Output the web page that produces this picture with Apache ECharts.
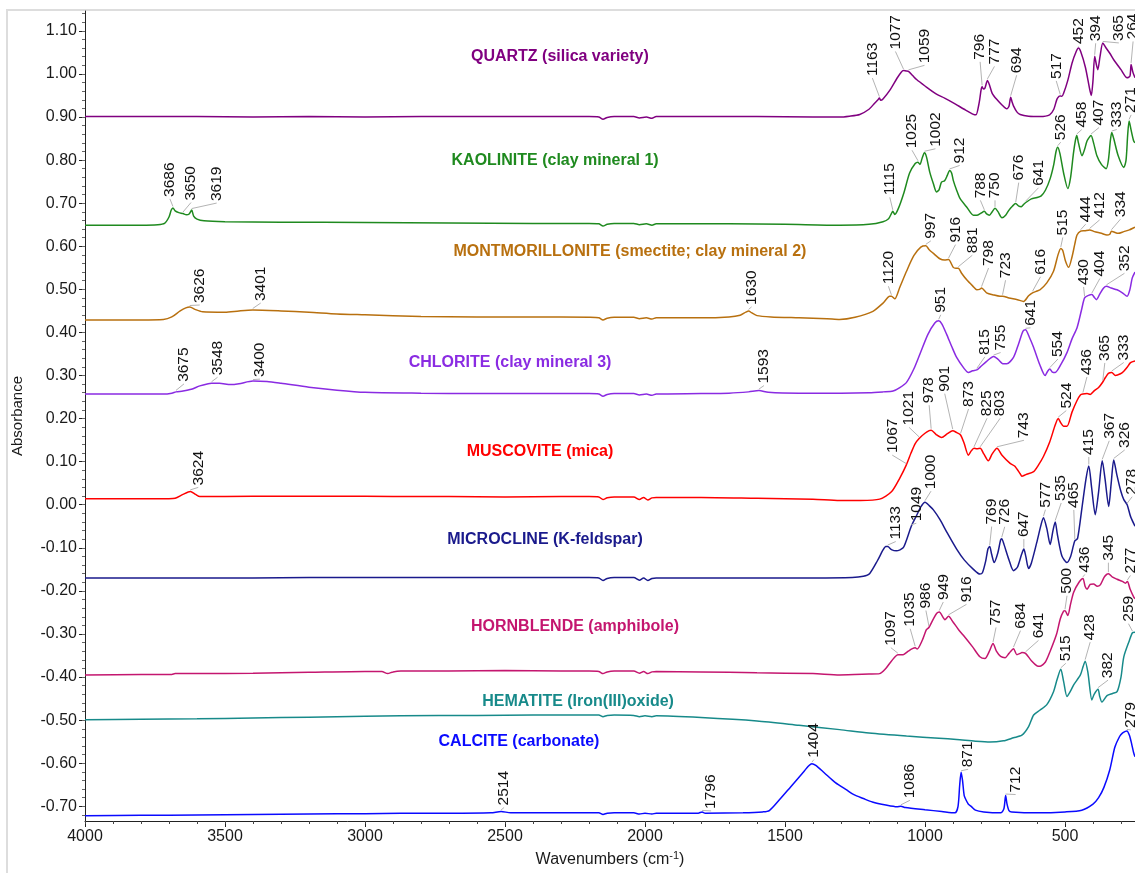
<!DOCTYPE html>
<html>
<head>
<meta charset="utf-8">
<script src="https://cdn.jsdelivr.net/npm/echarts@6/dist/echarts.min.js"></script>
<style>html,body{margin:0;padding:0;background:#fff}#chart{width:1135px;height:873px}</style>
</head>
<body>
<div id="chart"></div>
<script>
// ---------- axis ticks ----------
const xTickValues = [500, 1000, 1500, 2000, 2500, 3000, 3500, 4000];
const yTickValues = [-0.70, -0.60, -0.50, -0.40, -0.30, -0.20, -0.10, 0.00, 0.10, 0.20, 0.30, 0.40, 0.50, 0.60, 0.70, 0.80, 0.90, 1.00, 1.10];

// ---------- names ----------
const mineralNames = [
  'QUARTZ (silica variety)',
  'KAOLINITE (clay mineral 1)',
  'MONTMORILLONITE (smectite; clay mineral 2)',
  'CHLORITE (clay mineral 3)',
  'MUSCOVITE (mica)',
  'MICROCLINE (K-feldspar)',
  'HORNBLENDE (amphibole)',
  'HEMATITE (Iron(III)oxide)',
  'CALCITE (carbonate)'
];

// ---------- spectra [wavenumber, absorbance] ----------
const quartz = [[4000,0.901],[3800,0.901],[3600,0.901],[3400,0.900],[3200,0.901],[3000,0.900],[2800,0.901],[2600,0.901],[2400,0.901],[2200,0.901],[2165,0.900],[2150,0.895],[2135,0.899],[2110,0.901],[2040,0.901],[2020,0.898],[1995,0.900],[1975,0.897],[1960,0.901],[1800,0.901],[1600,0.901],[1400,0.900],[1305,0.900],[1270,0.902],[1233,0.906],[1200,0.918],[1180,0.932],[1168,0.940],[1163,0.944],[1158,0.939],[1150,0.942],[1126,0.962],[1100,0.990],[1085,1.004],[1077,1.008],[1068,1.007],[1059,1.006],[1045,0.997],[1030,0.987],[1000,0.972],[959,0.953],[930,0.944],[899,0.933],[860,0.918],[827,0.906],[818,0.905],[806,0.935],[800,0.962],[796,0.970],[791,0.965],[786,0.967],[777,0.985],[770,0.975],[760,0.955],[744,0.941],[725,0.928],[708,0.919],[700,0.925],[694,0.946],[689,0.935],[684,0.926],[672,0.912],[660,0.906],[630,0.902],[589,0.901],[555,0.905],[540,0.918],[529,0.941],[521,0.948],[517,0.949],[511,0.948],[505,0.955],[490,0.985],[475,1.025],[460,1.052],[452,1.060],[444,1.052],[427,1.015],[412,0.965],[406,0.950],[400,0.985],[394,1.041],[388,1.022],[383,1.010],[375,1.040],[365,1.072],[355,1.062],[340,1.048],[326,1.033],[300,1.010],[278,0.991],[268,0.995],[264,1.022],[258,1.005],[250,0.991]];

const kaolinite = [[4000,0.649],[3800,0.649],[3740,0.650],[3716,0.653],[3700,0.668],[3692,0.684],[3686,0.689],[3678,0.682],[3665,0.678],[3650,0.676],[3638,0.673],[3628,0.675],[3619,0.684],[3612,0.670],[3600,0.663],[3575,0.659],[3500,0.657],[3300,0.656],[3000,0.655],[2700,0.654],[2400,0.653],[2200,0.653],[2165,0.652],[2150,0.647],[2135,0.651],[2110,0.653],[2040,0.653],[2020,0.650],[1995,0.652],[1975,0.649],[1960,0.652],[1700,0.652],[1500,0.651],[1305,0.649],[1200,0.651],[1150,0.657],[1130,0.664],[1120,0.676],[1115,0.681],[1108,0.674],[1095,0.688],[1075,0.725],[1055,0.770],[1035,0.792],[1025,0.795],[1018,0.790],[1010,0.805],[1002,0.817],[995,0.808],[983,0.772],[970,0.745],[959,0.726],[950,0.731],[941,0.749],[930,0.752],[920,0.765],[912,0.776],[905,0.770],[899,0.753],[887,0.730],[875,0.711],[850,0.690],[827,0.672],[815,0.672],[800,0.677],[788,0.681],[780,0.675],[770,0.672],[760,0.680],[750,0.688],[740,0.681],[725,0.666],[712,0.672],[700,0.684],[688,0.693],[676,0.699],[665,0.693],[656,0.692],[648,0.697],[641,0.701],[620,0.710],[600,0.713],[585,0.717],[570,0.730],[553,0.757],[540,0.790],[532,0.820],[526,0.830],[518,0.815],[505,0.770],[490,0.734],[480,0.760],[470,0.815],[463,0.845],[458,0.857],[452,0.840],[439,0.810],[430,0.825],[421,0.845],[407,0.857],[398,0.840],[386,0.810],[370,0.790],[353,0.780],[345,0.800],[338,0.845],[333,0.864],[326,0.850],[310,0.810],[290,0.783],[282,0.800],[276,0.860],[271,0.891],[264,0.870],[255,0.845],[250,0.840]];

const montmorillonite = [[4000,0.429],[3800,0.429],[3720,0.430],[3690,0.436],[3660,0.450],[3640,0.457],[3626,0.459],[3605,0.453],[3580,0.448],[3500,0.447],[3450,0.450],[3401,0.452],[3300,0.450],[3200,0.447],[3100,0.443],[3000,0.441],[2800,0.437],[2600,0.436],[2400,0.436],[2200,0.435],[2165,0.434],[2150,0.429],[2135,0.433],[2110,0.435],[2040,0.435],[2020,0.432],[1995,0.434],[1975,0.431],[1960,0.434],[1800,0.434],[1700,0.436],[1660,0.440],[1640,0.447],[1630,0.450],[1620,0.446],[1600,0.439],[1550,0.436],[1450,0.434],[1350,0.432],[1305,0.430],[1250,0.435],[1186,0.449],[1150,0.468],[1126,0.484],[1120,0.484],[1108,0.478],[1090,0.505],[1066,0.542],[1040,0.578],[1015,0.598],[997,0.601],[985,0.592],[971,0.584],[947,0.571],[930,0.568],[916,0.569],[899,0.551],[890,0.549],[881,0.549],[870,0.538],[851,0.522],[830,0.508],[815,0.499],[805,0.500],[798,0.503],[780,0.492],[755,0.487],[732,0.484],[723,0.484],[700,0.480],[670,0.476],[648,0.472],[630,0.485],[616,0.492],[600,0.496],[589,0.499],[565,0.515],[541,0.542],[525,0.580],[515,0.595],[508,0.590],[498,0.565],[487,0.551],[475,0.575],[465,0.605],[457,0.626],[444,0.635],[430,0.636],[412,0.638],[395,0.634],[370,0.630],[350,0.626],[340,0.628],[334,0.635],[325,0.633],[310,0.630],[290,0.634],[270,0.638],[254,0.643],[250,0.644]];

const chlorite = [[4000,0.257],[3800,0.257],[3720,0.257],[3690,0.259],[3675,0.262],[3650,0.264],[3620,0.268],[3590,0.276],[3560,0.281],[3548,0.282],[3520,0.282],[3480,0.279],[3450,0.281],[3400,0.287],[3350,0.286],[3300,0.282],[3200,0.273],[3100,0.266],[3000,0.261],[2800,0.259],[2600,0.258],[2400,0.258],[2200,0.258],[2165,0.257],[2150,0.252],[2135,0.256],[2110,0.258],[2040,0.258],[2020,0.255],[1995,0.257],[1975,0.254],[1960,0.257],[1800,0.258],[1700,0.259],[1630,0.262],[1593,0.265],[1560,0.261],[1450,0.259],[1300,0.259],[1200,0.260],[1150,0.262],[1114,0.264],[1090,0.272],[1066,0.284],[1040,0.315],[1018,0.350],[990,0.395],[965,0.422],[951,0.427],[940,0.420],[923,0.396],[905,0.368],[887,0.342],[860,0.316],[845,0.307],[830,0.311],[815,0.313],[804,0.319],[780,0.333],[755,0.344],[740,0.338],[720,0.327],[708,0.327],[684,0.342],[665,0.375],[650,0.403],[641,0.406],[628,0.390],[612,0.365],[590,0.325],[571,0.300],[562,0.310],[554,0.315],[545,0.308],[535,0.307],[515,0.325],[493,0.353],[475,0.385],[457,0.411],[440,0.455],[430,0.480],[416,0.486],[404,0.488],[395,0.481],[388,0.476],[375,0.490],[362,0.503],[352,0.507],[335,0.503],[314,0.499],[295,0.492],[278,0.484],[268,0.500],[260,0.526],[250,0.540]];

const muscovite = [[4000,0.014],[3800,0.014],[3700,0.014],[3678,0.015],[3650,0.024],[3624,0.031],[3605,0.024],[3590,0.019],[3500,0.019],[3300,0.020],[3100,0.020],[2900,0.019],[2700,0.019],[2500,0.018],[2300,0.019],[2200,0.019],[2165,0.018],[2150,0.012],[2135,0.016],[2110,0.018],[2040,0.018],[2020,0.012],[2005,0.017],[1990,0.011],[1975,0.016],[1960,0.017],[1800,0.017],[1600,0.015],[1400,0.013],[1305,0.010],[1230,0.010],[1162,0.013],[1120,0.030],[1090,0.062],[1067,0.092],[1050,0.120],[1035,0.142],[1021,0.154],[1000,0.166],[985,0.172],[978,0.173],[960,0.163],[941,0.156],[920,0.165],[901,0.172],[888,0.168],[873,0.162],[860,0.142],[845,0.115],[835,0.125],[825,0.131],[815,0.130],[803,0.131],[790,0.118],[774,0.102],[760,0.118],[743,0.131],[725,0.115],[696,0.096],[680,0.090],[660,0.072],[654,0.066],[640,0.070],[612,0.077],[595,0.092],[577,0.112],[555,0.145],[535,0.185],[524,0.200],[515,0.190],[505,0.182],[493,0.182],[475,0.215],[457,0.242],[445,0.255],[436,0.257],[421,0.258],[410,0.256],[395,0.265],[380,0.272],[365,0.285],[355,0.296],[345,0.305],[333,0.307],[320,0.300],[302,0.304],[290,0.310],[278,0.319],[266,0.330],[250,0.334]];

const microcline = [[4000,-0.170],[3800,-0.170],[3600,-0.170],[3400,-0.170],[3200,-0.169],[3000,-0.169],[2800,-0.169],[2600,-0.169],[2400,-0.169],[2200,-0.169],[2165,-0.170],[2150,-0.176],[2135,-0.171],[2110,-0.169],[2040,-0.169],[2020,-0.175],[2005,-0.170],[1990,-0.176],[1975,-0.171],[1960,-0.170],[1800,-0.170],[1600,-0.170],[1400,-0.170],[1260,-0.169],[1220,-0.166],[1198,-0.160],[1170,-0.130],[1150,-0.105],[1140,-0.097],[1133,-0.097],[1120,-0.104],[1102,-0.107],[1078,-0.100],[1065,-0.080],[1049,-0.050],[1030,-0.025],[1015,-0.005],[1000,0.006],[985,-0.002],[970,-0.012],[947,-0.034],[920,-0.066],[887,-0.103],[860,-0.128],[827,-0.150],[804,-0.161],[795,-0.158],[783,-0.130],[775,-0.102],[769,-0.097],[762,-0.115],[753,-0.134],[740,-0.112],[730,-0.082],[726,-0.079],[718,-0.092],[700,-0.128],[684,-0.153],[670,-0.145],[655,-0.115],[647,-0.103],[640,-0.120],[630,-0.148],[620,-0.135],[601,-0.088],[585,-0.045],[577,-0.030],[565,-0.055],[553,-0.092],[543,-0.060],[535,-0.040],[527,-0.070],[511,-0.119],[493,-0.134],[480,-0.120],[470,-0.095],[465,-0.084],[455,-0.078],[440,-0.010],[425,0.060],[415,0.090],[405,0.040],[392,-0.023],[380,0.030],[367,0.102],[357,0.060],[344,-0.004],[335,0.050],[326,0.104],[315,0.070],[300,0.030],[290,0.012],[278,0.000],[266,-0.027],[250,-0.050]];

const hornblende = [[4000,-0.395],[3800,-0.394],[3690,-0.394],[3678,-0.392],[3600,-0.392],[3400,-0.391],[3200,-0.389],[3000,-0.387],[2940,-0.387],[2919,-0.392],[2900,-0.388],[2872,-0.386],[2700,-0.386],[2500,-0.385],[2300,-0.386],[2200,-0.386],[2165,-0.387],[2150,-0.392],[2135,-0.388],[2110,-0.386],[2040,-0.386],[2020,-0.391],[2005,-0.387],[1990,-0.392],[1975,-0.388],[1960,-0.387],[1800,-0.388],[1600,-0.390],[1400,-0.392],[1305,-0.395],[1200,-0.393],[1162,-0.392],[1140,-0.380],[1126,-0.368],[1110,-0.355],[1097,-0.348],[1078,-0.348],[1060,-0.340],[1045,-0.334],[1035,-0.332],[1028,-0.335],[1010,-0.315],[995,-0.290],[986,-0.285],[970,-0.265],[958,-0.252],[949,-0.249],[935,-0.262],[929,-0.267],[916,-0.259],[900,-0.272],[880,-0.290],[863,-0.303],[830,-0.330],[804,-0.353],[786,-0.357],[770,-0.340],[757,-0.322],[745,-0.340],[730,-0.352],[714,-0.355],[700,-0.345],[684,-0.334],[672,-0.348],[660,-0.345],[654,-0.343],[641,-0.345],[620,-0.362],[600,-0.374],[589,-0.375],[570,-0.365],[553,-0.340],[530,-0.300],[517,-0.265],[505,-0.247],[500,-0.246],[490,-0.257],[480,-0.230],[469,-0.203],[450,-0.180],[436,-0.171],[428,-0.190],[421,-0.196],[410,-0.185],[398,-0.184],[385,-0.189],[374,-0.186],[360,-0.168],[350,-0.161],[345,-0.160],[330,-0.168],[314,-0.173],[295,-0.178],[284,-0.182],[277,-0.178],[268,-0.195],[254,-0.215],[250,-0.218]];

const hematite = [[4000,-0.499],[3800,-0.498],[3600,-0.497],[3400,-0.495],[3200,-0.493],[3000,-0.491],[2872,-0.490],[2600,-0.489],[2400,-0.488],[2200,-0.488],[2165,-0.488],[2150,-0.492],[2135,-0.489],[2110,-0.488],[2040,-0.489],[2020,-0.492],[2000,-0.490],[1975,-0.492],[1960,-0.490],[1800,-0.494],[1600,-0.502],[1450,-0.512],[1305,-0.522],[1200,-0.530],[1066,-0.537],[950,-0.542],[887,-0.545],[820,-0.549],[768,-0.551],[720,-0.548],[684,-0.541],[654,-0.535],[630,-0.515],[612,-0.488],[590,-0.477],[565,-0.464],[541,-0.434],[528,-0.405],[515,-0.382],[505,-0.410],[493,-0.445],[480,-0.432],[469,-0.418],[445,-0.395],[435,-0.375],[428,-0.363],[418,-0.390],[404,-0.453],[396,-0.440],[382,-0.428],[376,-0.445],[368,-0.458],[350,-0.443],[330,-0.438],[314,-0.434],[300,-0.400],[290,-0.353],[270,-0.315],[259,-0.297],[250,-0.296]];

const calcite = [[4000,-0.722],[3800,-0.721],[3600,-0.720],[3400,-0.719],[3200,-0.718],[3000,-0.717],[2872,-0.716],[2700,-0.716],[2550,-0.715],[2514,-0.712],[2480,-0.715],[2300,-0.715],[2200,-0.715],[2165,-0.715],[2150,-0.719],[2135,-0.716],[2110,-0.715],[2040,-0.715],[2020,-0.718],[2000,-0.716],[1975,-0.718],[1960,-0.716],[1850,-0.716],[1810,-0.716],[1796,-0.713],[1785,-0.716],[1650,-0.715],[1580,-0.713],[1556,-0.710],[1520,-0.685],[1480,-0.655],[1440,-0.625],[1415,-0.606],[1404,-0.601],[1390,-0.605],[1360,-0.622],[1320,-0.645],[1280,-0.662],[1254,-0.673],[1220,-0.682],[1188,-0.690],[1140,-0.697],[1100,-0.701],[1086,-0.700],[1070,-0.703],[1000,-0.708],[940,-0.712],[893,-0.715],[882,-0.700],[876,-0.650],[871,-0.621],[866,-0.640],[860,-0.675],[853,-0.686],[845,-0.695],[835,-0.700],[820,-0.709],[790,-0.713],[729,-0.715],[718,-0.705],[712,-0.675],[707,-0.695],[700,-0.710],[690,-0.713],[597,-0.715],[500,-0.713],[440,-0.709],[400,-0.695],[380,-0.680],[361,-0.656],[340,-0.615],[322,-0.563],[305,-0.538],[295,-0.530],[284,-0.526],[279,-0.525],[270,-0.535],[262,-0.555],[255,-0.575],[250,-0.585]];

// ---------- labelled peaks (wavenumbers) ----------
const quartzPeaks = [1163, 1077, 1059, 796, 777, 694, 517, 452, 394, 365, 264];
const kaolinitePeaks = [3686, 3650, 3619, 1115, 1025, 1002, 912, 788, 750, 676, 641, 526, 458, 407, 333, 271];
const montmorillonitePeaks = [3626, 3401, 1630, 1120, 997, 916, 881, 798, 723, 616, 515, 444, 412, 334];
const chloritePeaks = [3675, 3548, 3400, 1593, 951, 815, 755, 641, 554, 430, 404, 352];
const muscovitePeaks = [3624, 1067, 1021, 978, 901, 873, 825, 803, 743, 524, 436, 365, 333];
const microclinePeaks = [1133, 1049, 1000, 769, 726, 647, 577, 535, 465, 415, 367, 326, 278];
const hornblendePeaks = [1097, 1035, 986, 949, 916, 757, 684, 641, 500, 436, 345, 277];
const hematitePeaks = [515, 428, 382, 259];
const calcitePeaks = [2514, 1796, 1404, 1086, 871, 712, 279];

// ---------- layout: label offsets (px) from the peak, title anchors ----------
const quartzLabelOffsets = [[-7,-22],[-8,-21],[16,-8],[-2,-27],[7,-16],[6,-24],[-4,-17],[0,-4],[1,-15],[16,-2],[2,-25]];
const kaoliniteLabelOffsets = [[-3,-11],[8,-13],[25,-9],[-3,-16],[-6,-14],[11,-6],[10,-7],[-4,-13],[0,-10],[3,-23],[13,-17],[3,-7],[5,-8],[8,-10],[5,-5],[2,-8]];
const montmorilloniteLabelOffsets = [[10,-4],[8,-9],[3,-6],[-3,-12],[5,-7],[7,-17],[14,-15],[7,-22],[3,-18],[8,-18],[2,-13],[5,-9],[10,-12],[9,-14]];
const chloriteLabelOffsets = [[8,-10],[6,-8],[7,-4],[5,-7],[2,-8],[8,-15],[7,-6],[5,-4],[8,-12],[-1,-13],[8,-18],[18,-15]];
const muscoviteLabelOffsets = [[8,-6],[-14,-12],[-10,-13],[-2,-27],[-8,-39],[8,-28],[13,-32],[20,-32],[27,-10],[8,-10],[4,-19],[2,-21],[12,-12]];
const microclineLabelOffsets = [[8,-7],[5,-5],[6,-13],[2,-22],[3,-14],[0,-12],[2,-10],[6,-21],[-1,-33],[0,-11],[7,-22],[11,-12],[5,-10]];
const hornblendeLabelOffsets = [[-7,-9],[-5,-21],[-3,-19],[4,-12],[18,-14],[3,-18],[7,-20],[13,-15],[2,-17],[2,-6],[0,-13],[3,-8]];
const hematiteLabelOffsets = [[5,-8],[5,-21],[10,-11],[-4,-11]];
const calciteLabelOffsets = [[3,-6],[9,-3],[2,-6],[9,-8],[7,-5],[10,-3],[4,-3]];

const titleAnchors = [[2304,1.040],[2321,0.798],[2054,0.588],[2482,0.331],[2375,0.124],[2357,-0.081],[2250,-0.282],[2239,-0.456],[2450,-0.550]];

const colors = ['#800080','#1f8a1f','#b8700f','#8a2be2','#ff0000','#1a1a8c','#c4166f','#178a8a','#0a0aff'];

const spectra = [quartz, kaolinite, montmorillonite, chlorite, muscovite, microcline, hornblende, hematite, calcite];
const peakLists = [quartzPeaks, kaolinitePeaks, montmorillonitePeaks, chloritePeaks, muscovitePeaks, microclinePeaks, hornblendePeaks, hematitePeaks, calcitePeaks];
const offsetLists = [quartzLabelOffsets, kaoliniteLabelOffsets, montmorilloniteLabelOffsets, chloriteLabelOffsets, muscoviteLabelOffsets, microclineLabelOffsets, hornblendeLabelOffsets, hematiteLabelOffsets, calciteLabelOffsets];

function absAt(spec, wn) {
  let best = spec[0], bd = Infinity;
  for (const p of spec) { const d = Math.abs(p[0] - wn); if (d < bd) { bd = d; best = p; } }
  return best[1];
}

const peakData = [];
spectra.forEach((spec, i) => {
  peakLists[i].forEach((wn, j) => {
    const off = offsetLists[i][j] || [0, -8];
    peakData.push([wn, absAt(spec, wn), off[0], off[1]]);
  });
});
const titleData = titleAnchors.map((a, i) => [a[0], a[1], i]);

const FONT = '"Liberation Sans", Arial, Helvetica, sans-serif';
const X_MIN = 250, X_MAX = 4000, Y_MIN = -0.7341, Y_MAX = 1.1461;

const xMinor = []; for (let v = 300; v <= 4000; v += 100) xMinor.push(v);
const yMinor = []; for (let k = -36; k <= 57; k++) yMinor.push(Math.round(k * 2) / 100);

const chart = echarts.init(document.getElementById('chart'), null, { renderer: 'canvas' });

const lineSeries = spectra.map((spec, i) => ({
  type: 'line', name: mineralNames[i], data: spec, xAxisIndex: 0, yAxisIndex: 0,
  showSymbol: false, symbol: 'none', smooth: 0.25, animation: false,
  lineStyle: { color: colors[i], width: 1.5 }, z: 3
}));

const option = {
  animation: false,
  backgroundColor: '#ffffff',
  grid: { left: 85, right: 0, top: 11, bottom: 46, containLabel: false },
  graphic: [{ type: 'rect', shape: { x: 7, y: 10, width: 1140, height: 880 }, style: { stroke: '#dddddd', fill: null, lineWidth: 2 }, silent: true, z: -10 }],
  xAxis: [
    {
      type: 'value', inverse: true, min: X_MIN, max: X_MAX, position: 'bottom',
      name: 'Wavenumbers (cm{sup|-1})', nameLocation: 'middle', nameGap: 29,
      nameTextStyle: { fontFamily: FONT, fontSize: 16, color: '#1a1a1a', rich: { sup: { fontSize: 11, verticalAlign: 'top', padding: [0, 0, 9, 0], fontFamily: FONT, color: '#1a1a1a' } } },
      axisLine: { show: true, onZero: false, lineStyle: { color: '#222', width: 1 } },
      axisTick: { show: true, inside: false, length: 6, customValues: xTickValues, lineStyle: { color: '#222' } },
      axisLabel: { customValues: xTickValues, fontFamily: FONT, fontSize: 16, color: '#1a1a1a', margin: 8,
        formatter: v => String(Math.round(v)) },
      splitLine: { show: false }
    },
    {
      type: 'value', inverse: true, min: X_MIN, max: X_MAX, position: 'bottom',
      axisLine: { show: false, onZero: false },
      axisTick: { show: true, length: 3, customValues: xMinor, lineStyle: { color: '#444' } },
      axisLabel: { show: false }, splitLine: { show: false }
    }
  ],
  yAxis: [
    {
      type: 'value', min: Y_MIN, max: Y_MAX, position: 'left',
      name: 'Absorbance', nameLocation: 'middle', nameGap: 60, nameRotate: 90,
      nameTextStyle: { fontFamily: FONT, fontSize: 15, color: '#1a1a1a' },
      axisLine: { show: true, onZero: false, lineStyle: { color: '#222', width: 1 } },
      axisTick: { show: true, length: 6, customValues: yTickValues, lineStyle: { color: '#222' } },
      axisLabel: { customValues: yTickValues, fontFamily: FONT, fontSize: 16, color: '#1a1a1a', margin: 8,
        formatter: v => (Math.round(v * 100) / 100).toFixed(2) },
      splitLine: { show: false }
    },
    {
      type: 'value', min: Y_MIN, max: Y_MAX, position: 'left',
      axisLine: { show: false, onZero: false },
      axisTick: { show: true, length: 3, customValues: yMinor, lineStyle: { color: '#666' } },
      axisLabel: { show: false }, splitLine: { show: false }
    }
  ],
  series: lineSeries.concat([
    {
      type: 'custom', name: 'peaks', xAxisIndex: 0, yAxisIndex: 0, data: peakData, z: 4,
      encode: { x: 0, y: 1 }, clip: false, silent: true,
      renderItem: function (params, api) {
        const p = api.coord([api.value(0), api.value(1)]);
        const dx = api.value(2), dy = api.value(3);
        const lx = p[0] + dx, ly = p[1] + dy;
        return {
          type: 'group',
          children: [
            { type: 'line', shape: { x1: p[0], y1: p[1] - 1.5, x2: lx, y2: ly + 2 }, style: { stroke: '#b4b4b4', lineWidth: 1 } },
            { type: 'text', x: lx, y: ly, rotation: Math.PI / 2,
              style: { text: String(api.value(0)), fill: '#111111', font: '15.5px ' + FONT, align: 'left', verticalAlign: 'middle' } }
          ]
        };
      }
    },
    {
      type: 'custom', name: 'titles', xAxisIndex: 0, yAxisIndex: 0, data: titleData, z: 5,
      encode: { x: 0, y: 1 }, clip: false, silent: true,
      renderItem: function (params, api) {
        const p = api.coord([api.value(0), api.value(1)]);
        const i = api.value(2);
        return { type: 'text', x: p[0], y: p[1],
          style: { text: mineralNames[i], fill: colors[i], font: 'bold 16px ' + FONT, align: 'center', verticalAlign: 'middle' } };
      }
    }
  ])
};
chart.setOption(option);
</script>
</body>
</html>
